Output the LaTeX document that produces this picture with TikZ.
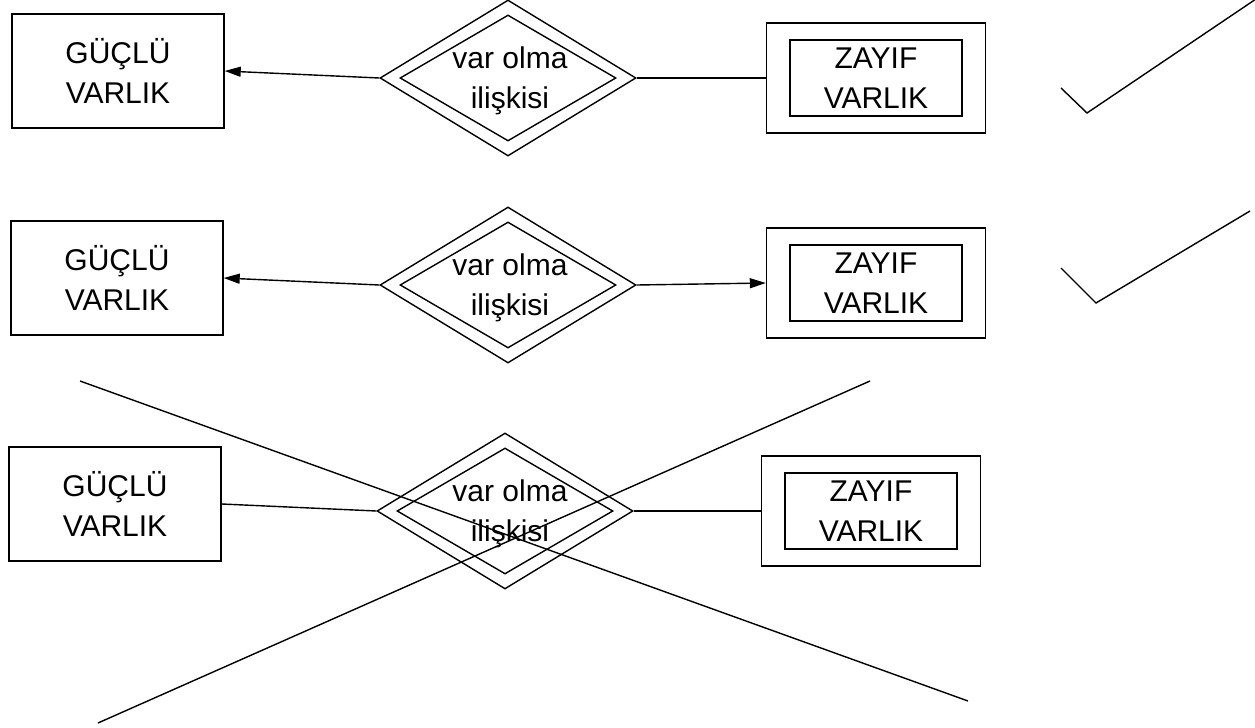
\documentclass[tikz,border=0pt]{standalone}
\usepackage{fontspec}
\setmainfont{Liberation Sans}
\usepackage{tikz}
\usetikzlibrary{arrows.meta, shapes.geometric, positioning}

\begin{document}
\begin{tikzpicture}[
  x=0.5pt, y=-0.5pt,
  font=\fontsize{15}{20}\selectfont,
  line width=0.7pt,
  guclu/.style={draw, rectangle, align=center, minimum width=106pt, minimum height=57pt},
  zayif/.style={draw, rectangle, minimum width=109.5pt, minimum height=55pt},
  zayific/.style={draw, rectangle, align=center, inner sep=0pt, minimum width=86pt, minimum height=38pt},
  iliski/.style={draw, diamond, minimum width=128pt, minimum height=78pt},
  iliskiic/.style={draw, diamond, minimum width=108pt, minimum height=63pt},
  yazi/.style={align=center, inner sep=0pt},
  arrow/.style={-{Triangle[length=8pt, width=5pt]}}
]
\useasboundingbox (0,0) rectangle (1255,728);

% Satir 1
\node[guclu] (guclu1) at (118,71) {GÜÇLÜ\\VARLIK};
\node[iliski] (iliski1) at (508,78) {};
\node[iliskiic] (ic1) at (iliski1) {};
\node[yazi] (yazi1) at (510,81) {var olma\\ilişkisi};
\node[zayif] (zayif1) at (876,78) {};
\node[zayific] (zic1) at (zayif1) {ZAYIF\\VARLIK};

% Satir 2
\node[guclu] (guclu2) at (117,278) {GÜÇLÜ\\VARLIK};
\node[iliski] (iliski2) at (508,285) {};
\node[iliskiic] (ic2) at (iliski2) {};
\node[yazi] (yazi2) at (510,288) {var olma\\ilişkisi};
\node[zayif] (zayif2) at (876,283) {};
\node[zayific] (zic2) at (zayif2) {ZAYIF\\VARLIK};

% Satir 3
\node[guclu] (guclu3) at (115,504) {GÜÇLÜ\\VARLIK};
\node[iliski] (iliski3) at (505,511) {};
\node[iliskiic] (ic3) at (iliski3) {};
\node[yazi] (yazi3) at (510,514) {var olma\\ilişkisi};
\node[zayif] (zayif3) at (871,511) {};
\node[zayific] (zic3) at (zayif3) {ZAYIF\\VARLIK};

% Oklar
\draw[arrow] (iliski1.west) -- (guclu1.east);
\draw (iliski1.east) -- (zayif1.west);
\draw[arrow] (iliski2.west) -- (guclu2.east);
\draw[arrow] (iliski2.east) -- (zayif2.west);
\draw (guclu3.east) -- (iliski3.west);
\draw (iliski3.east) -- (zayif3.west);

% Isaretler
\draw (1061,88) -- (1087,113) -- (1256,-1);
\draw (1061,268) -- (1096,303) -- (1250,211);
\draw (80,381) -- (968,701);
\draw (98,723) -- (870,381);

\end{tikzpicture}
\end{document}
